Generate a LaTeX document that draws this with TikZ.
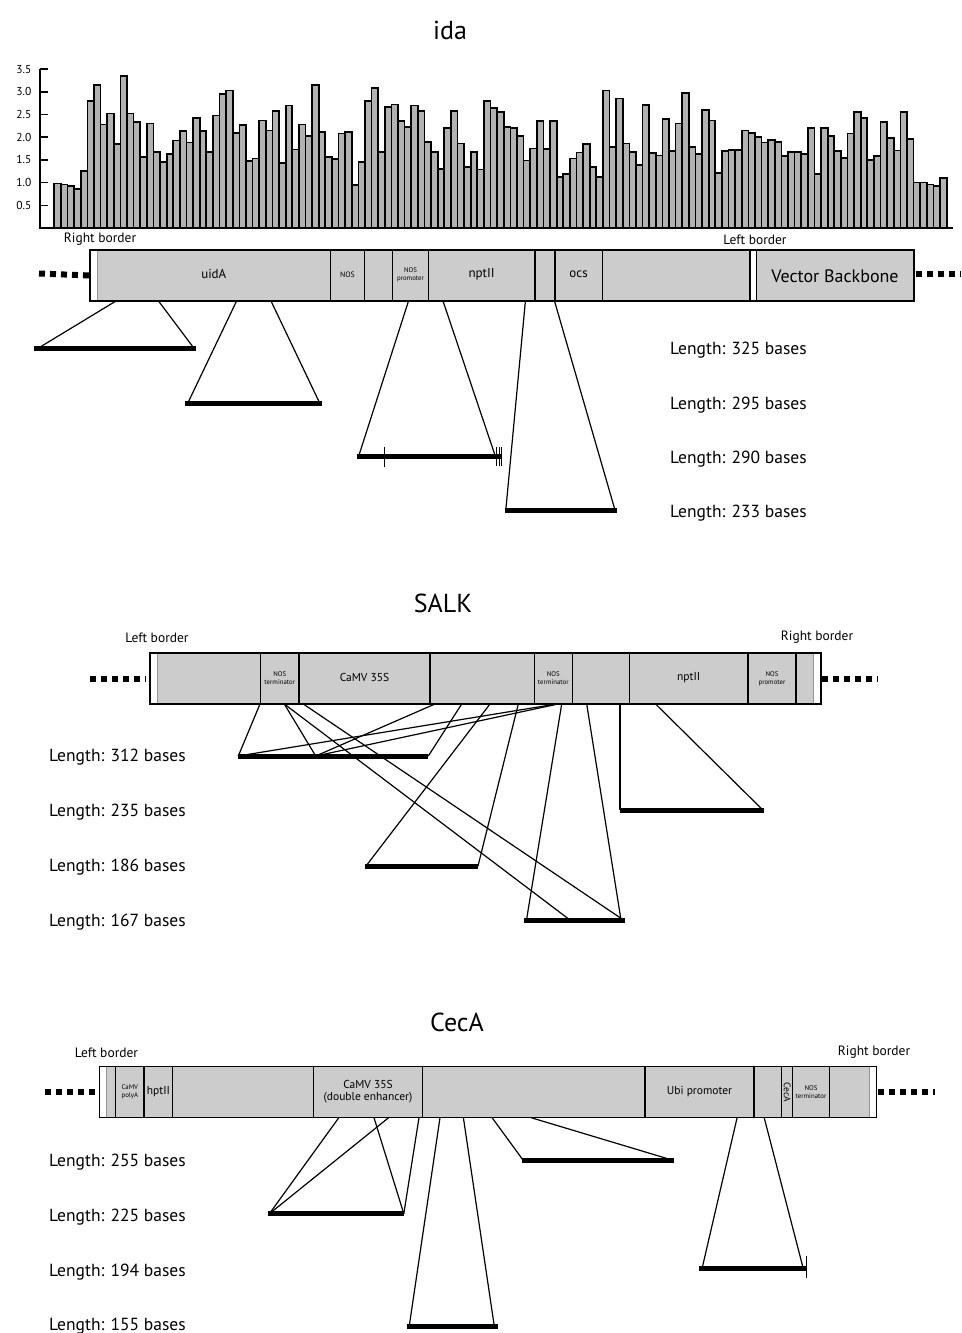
\documentclass[tikz,border=0pt]{standalone}
\usepackage{fontspec}
\setmainfont{PT Sans}
\definecolor{segGray}{RGB}{204,204,204}
\definecolor{barGray}{RGB}{178,178,178}
\definecolor{edgeGray}{RGB}{150,150,150}
\begin{document}
\begin{tikzpicture}[x=1pt,y=-1pt,
  heading/.style={inner sep=0pt, font=\fontsize{26}{30}\selectfont},
  lenlabel/.style={anchor=west, inner sep=0pt, font=\fontsize{17.5}{20}\selectfont},
  borderlabel/.style={inner sep=0pt, font=\fontsize{13.5}{15}\selectfont},
  seglabel/.style={inner sep=0pt, align=center, font=\fontsize{13}{14}\selectfont},
  smalllabel/.style={inner sep=0pt, align=center, font=\fontsize{11.5}{12.5}\selectfont},
  tinylabel/.style={inner sep=0pt, align=center, font=\fontsize{6.8}{7.8}\selectfont},
  ticklabel/.style={anchor=east, inner sep=0pt, font=\fontsize{11.5}{13}\selectfont},
  construct/.style={draw=black, line width=1.2pt, fill=segGray, anchor=north west, inner sep=0pt, outer sep=0pt},
  divider/.style={line width=1.1pt},
  stripedge/.style={draw=edgeGray, line width=0.9pt},
  ends/.style={line width=6pt, dash pattern=on 6pt off 5pt},
  cutline/.style={line width=1.2pt},
  fragment/.style={line width=5pt},
  marker/.style={line width=1pt},
  histbar/.style={draw=black, line width=1.7pt, fill=barGray},
  axisline/.style={line width=1.5pt},
]
\fill[white] (0,0) rectangle (961,1333);
\useasboundingbox (0,0) rectangle (961,1333);

% ================= ida =================
\node[heading] (idaTitle) at (450,30) {ida};

% coverage histogram
\foreach \v [count=\i] in {0.98,0.96,0.92,0.86,1.25,2.8,3.15,2.28,2.52,1.85,3.35,2.52,2.33,1.57,2.3,1.67,1.45,1.63,1.93,2.13,1.88,2.42,2.13,1.68,2.48,2.95,3.03,2.1,2.27,1.47,1.53,2.37,2.15,2.57,1.43,2.7,1.73,2.28,2.02,3.15,2.12,1.57,1.52,2.08,2.12,0.95,1.45,2.8,3.08,1.67,2.67,2.72,2.36,2.22,2.7,2.58,1.9,1.67,1.3,2.2,2.57,1.86,1.35,1.68,1.29,2.79,2.65,2.56,2.23,2.21,2.03,1.49,1.75,2.35,1.74,2.35,1.13,1.19,1.53,1.66,1.85,1.35,1.13,3.03,1.79,2.85,1.86,1.68,1.38,2.71,1.65,1.6,2.4,1.69,2.3,2.98,1.79,1.63,2.6,2.37,1.21,1.7,1.72,1.72,2.15,2.09,2.01,1.88,1.94,1.9,1.59,1.68,1.68,1.63,2.2,1.19,2.21,2.03,1.7,1.54,2.08,2.55,2.43,1.5,1.59,2.33,1.99,1.71,2.56,1.96,1.0,1.0,0.96,0.93,1.1}
  \draw[histbar] ({54.3+(\i-1)*6.61},228) rectangle ++(6.61,{-\v*45.4});
\coordinate (axTop) at (40,69);
\coordinate (axOrigin) at (40,228);
\coordinate (axEnd) at (953,228);
\draw[axisline] (axTop) -- (axOrigin) -- (axEnd);
\foreach \v/\t [count=\k] in {0.5/0.5,1/1.0,1.5/1.5,2/2.0,2.5/2.5,3/3.0,3.5/3.5} {
  \draw[axisline] (40,{228-\v*45.4}) -- (48,{228-\v*45.4});
  \node[ticklabel] (tick\k) at (31.5,{228-\v*45.4}) {\t};
}

% construct
\node[construct, minimum width=824pt, minimum height=51pt] (idaBox) at (90,250) {};
\fill[white] (90.6,250.6) rectangle (97,300.4);
\draw[stripedge] (97,250.6) -- (97,300.4);
\fill[white] (750,250.6) rectangle (756.3,300.4);
\foreach \x in {330.7,364.3,392.7,428.3,535,555,602.3,750,756.3}
  \draw[divider] (\x,250) -- (\x,301);
\node[seglabel] (idaUidA) at (213.8,274) {uidA};
\node[tinylabel, font=\fontsize{7.8}{8.5}\selectfont] (idaNos) at (347.5,275) {NOS};
\node[tinylabel] (idaNosP) at (410.5,274.5) {NOS\\promoter};
\node[seglabel] (idaNpt) at (481.6,274) {nptII};
\node[seglabel] (idaOcs) at (578.6,274.5) {ocs};
\node[inner sep=0pt, font=\fontsize{18}{20}\selectfont] (idaVB) at (835,276) {Vector Backbone};
\node[borderlabel] (idaRB) at (100,239.5) {Right border};
\node[borderlabel] (idaLB) at (755,239.5) {Left border};
\coordinate (idaDotL) at (39,273.5);
\coordinate (idaDotR) at (961,273.5);
\draw[ends] (idaDotL) -- (idaBox.west);
\draw[ends] (916,273.5) -- (idaDotR);

% ida fragments
\coordinate (i1a) at (116,301);   \coordinate (i1b) at (158.5,301);
\coordinate (i1l) at (33.5,348.3); \coordinate (i1r) at (195.5,348.3);
\coordinate (i2a) at (236.6,301); \coordinate (i2b) at (271,301);
\coordinate (i2l) at (185,403.7); \coordinate (i2r) at (322,403.7);
\coordinate (i3a) at (408.5,301); \coordinate (i3b) at (443,301);
\coordinate (i3l) at (357,456.7); \coordinate (i3r) at (502,456.7);
\coordinate (i4a) at (525.4,301); \coordinate (i4b) at (554.5,301);
\coordinate (i4l) at (504.5,510); \coordinate (i4r) at (617,510);
\draw[cutline] (i1a) -- (38,348.3);  \draw[cutline] (i1b) -- (194,348.3);
\draw[cutline] (i2a) -- (187.5,403.7); \draw[cutline] (i2b) -- (320,403.7);
\draw[cutline] (i3a) -- (358.5,456.7); \draw[cutline] (i3b) -- (495.5,456.7);
\draw[cutline] (i4a) -- (505.8,510); \draw[cutline] (i4b) -- (615,510);
\draw[fragment] (i1l) -- (i1r);
\draw[fragment] (i2l) -- (i2r);
\draw[fragment] (i3l) -- (i3r);
\draw[fragment] (i4l) -- (i4r);
\draw[marker] (384.8,446.7) -- (384.8,466.7);
\foreach \x in {496.5,499,501.5} \draw[marker] (\x,447) -- (\x,466);

\node[lenlabel] (idaL1) at (670,350) {Length: 325 bases};
\node[lenlabel] (idaL2) at (670,405) {Length: 295 bases};
\node[lenlabel] (idaL3) at (670,459) {Length: 290 bases};
\node[lenlabel] (idaL4) at (670,513) {Length: 233 bases};

% ================= SALK =================
\node[heading] (salkTitle) at (443,603) {SALK};
\node[construct, minimum width=671pt, minimum height=51pt] (salkBox) at (150,653) {};
\fill[white] (150.6,653.6) rectangle (157.3,703.4);
\draw[stripedge] (157.3,653.6) -- (157.3,703.4);
\fill[white] (813.3,653.6) rectangle (820.4,703.4);
\draw[stripedge] (813.3,653.6) -- (813.3,703.4);
\foreach \x in {260.7,299,430,534.3,572.3,629.3,748,796}
  \draw[divider] (\x,653) -- (\x,704);
\node[tinylabel] (salkNos1) at (279.8,678.5) {NOS\\terminator};
\node[smalllabel] (salkCamv) at (364.5,677.5) {CaMV 35S};
\node[tinylabel] (salkNos2) at (553.3,678.5) {NOS\\terminator};
\node[smalllabel] (salkNpt) at (688.7,677.5) {nptII};
\node[tinylabel] (salkNosP) at (772,678.5) {NOS\\promoter};
\node[borderlabel] (salkLB) at (157,637.5) {Left border};
\node[borderlabel] (salkRB) at (817,637.5) {Right border};
\coordinate (salkDotL) at (90,679);
\coordinate (salkDotR) at (878,679);
\draw[ends] (salkDotL) -- (146,679);
\draw[ends] (822,679) -- (salkDotR);

% SALK fragments
\coordinate (sAl) at (238.3,756);  \coordinate (sAr) at (428.3,756);
\coordinate (sAm) at (315.7,756);
\coordinate (sBl) at (620,810);    \coordinate (sBr) at (763.8,810);
\coordinate (sCl) at (364.8,866);  \coordinate (sCr) at (478,866);
\coordinate (sDl) at (524,920);    \coordinate (sDr) at (625,920);
\coordinate (s1) at (260,704);   \coordinate (s2) at (461.7,704);
\coordinate (s3) at (284.3,704); \coordinate (s4) at (435,704);
\coordinate (s5) at (556.5,704); \coordinate (s6) at (558,704);
\coordinate (s7) at (303.3,704); \coordinate (s8) at (490,704);
\coordinate (s9) at (518.3,704); \coordinate (s10) at (561.7,704);
\coordinate (s11) at (586.7,704); \coordinate (s12) at (620,704);
\coordinate (s13) at (655.6,704);
\draw[cutline] (s1) -- (sAl);
\draw[cutline] (s2) -- (sAr);
\draw[cutline] (s3) -- (sAm);
\draw[cutline] (s4) -- (sAm);
\draw[cutline] (s5) -- (sAl);
\draw[cutline] (s6) -- (sAm);
\draw[cutline] (s3) -- (570,920);
\draw[cutline] (s7) -- (623.5,920);
\draw[cutline] (s8) -- (366,866);
\draw[cutline] (s9) -- (sCr);
\draw[cutline] (s10) -- (526.5,920);
\draw[cutline] (s11) -- (621,920);
\draw[cutline] (s12) -- (sBl);
\draw[cutline] (s13) -- (762.8,810);
\draw[fragment] (sAl) -- (sAr);
\draw[fragment] (sBl) -- (sBr);
\draw[fragment] (sCl) -- (sCr);
\draw[fragment] (sDl) -- (sDr);

\node[lenlabel] (salkL1) at (49,757) {Length: 312 bases};
\node[lenlabel] (salkL2) at (49,812) {Length: 235 bases};
\node[lenlabel] (salkL3) at (49,867) {Length: 186 bases};
\node[lenlabel] (salkL4) at (49,922) {Length: 167 bases};

% ================= CecA =================
\node[heading] (cecTitle) at (457,1022) {CecA};
\node[construct, minimum width=777.4pt, minimum height=51pt] (cecBox) at (99.3,1066.7) {};
\fill[white] (99.9,1067.3) rectangle (106.7,1117.1);
\draw[stripedge] (106.7,1067.3) -- (106.7,1117.1);
\fill[white] (869.3,1067.3) rectangle (876.1,1117.1);
\draw[stripedge] (869.3,1067.3) -- (869.3,1117.1);
\foreach \x in {115.7,144,172.7,313.3,422.7,645,754,781.7,792.7,829.3}
  \draw[divider] (\x,1066.7) -- (\x,1117.7);
\node[tinylabel] (cecPolyA) at (129.9,1092) {CaMV\\polyA};
\node[smalllabel] (cecHpt) at (158.4,1091.5) {hptII};
\node[smalllabel] (cecCamv) at (368,1091.5) {CaMV 35S\\(double enhancer)};
\node[smalllabel] (cecUbi) at (699.5,1091.5) {Ubi promoter};
\node[smalllabel, rotate=-90, font=\fontsize{9.5}{11}\selectfont] (cecGene) at (787.2,1092) {CecA};
\node[tinylabel] (cecNos) at (811,1092) {NOS\\terminator};
\node[borderlabel] (cecLB) at (106.5,1053) {Left border};
\node[borderlabel] (cecRB) at (874,1052) {Right border};
\coordinate (cecDotL) at (45,1091.7);
\coordinate (cecDotR) at (935,1091.7);
\draw[ends] (cecDotL) -- (99.3,1091.7);
\draw[ends] (878,1091.7) -- (cecDotR);

% CecA fragments
\coordinate (cEl) at (267.8,1213.7); \coordinate (cEr) at (403.8,1213.7);
\coordinate (cFl) at (522,1160);     \coordinate (cFr) at (673.7,1160);
\coordinate (cGl) at (699.2,1268.7); \coordinate (cGr) at (806,1268.7);
\coordinate (cHl) at (406.5,1326.3); \coordinate (cHr) at (497.6,1326.3);
\coordinate (c1) at (338.8,1117.7); \coordinate (c2) at (388.6,1117.7);
\coordinate (c3) at (374,1117.7);   \coordinate (c4) at (419,1117.7);
\coordinate (c5) at (440,1117.7);   \coordinate (c6) at (463.4,1117.7);
\coordinate (c7) at (492.1,1117.7); \coordinate (c8) at (531.2,1117.7);
\coordinate (c9) at (737.1,1117.7); \coordinate (c10) at (764.2,1117.7);
\draw[cutline] (c1) -- (269.4,1213.7);
\draw[cutline] (c2) -- (269.4,1213.7);
\draw[cutline] (c3) -- (cEr);
\draw[cutline] (c4) -- (cEr);
\draw[cutline] (c5) -- (409.2,1326.3);
\draw[cutline] (c6) -- (494.3,1326.3);
\draw[cutline] (c7) -- (523,1160);
\draw[cutline] (c8) -- (672,1160);
\draw[cutline] (c9) -- (702,1268.7);
\draw[cutline] (c10) -- (803.3,1268.7);
\draw[fragment] (cEl) -- (cEr);
\draw[fragment] (cFl) -- (cFr);
\draw[fragment] (cGl) -- (cGr);
\draw[fragment] (cHl) -- (cHr);
\draw[marker] (806,1256) -- (806,1278);

\node[lenlabel] (cecL1) at (49,1162) {Length: 255 bases};
\node[lenlabel] (cecL2) at (49,1217) {Length: 225 bases};
\node[lenlabel] (cecL3) at (49,1272) {Length: 194 bases};
\node[lenlabel] (cecL4) at (49,1326) {Length: 155 bases};
\end{tikzpicture}
\end{document}
